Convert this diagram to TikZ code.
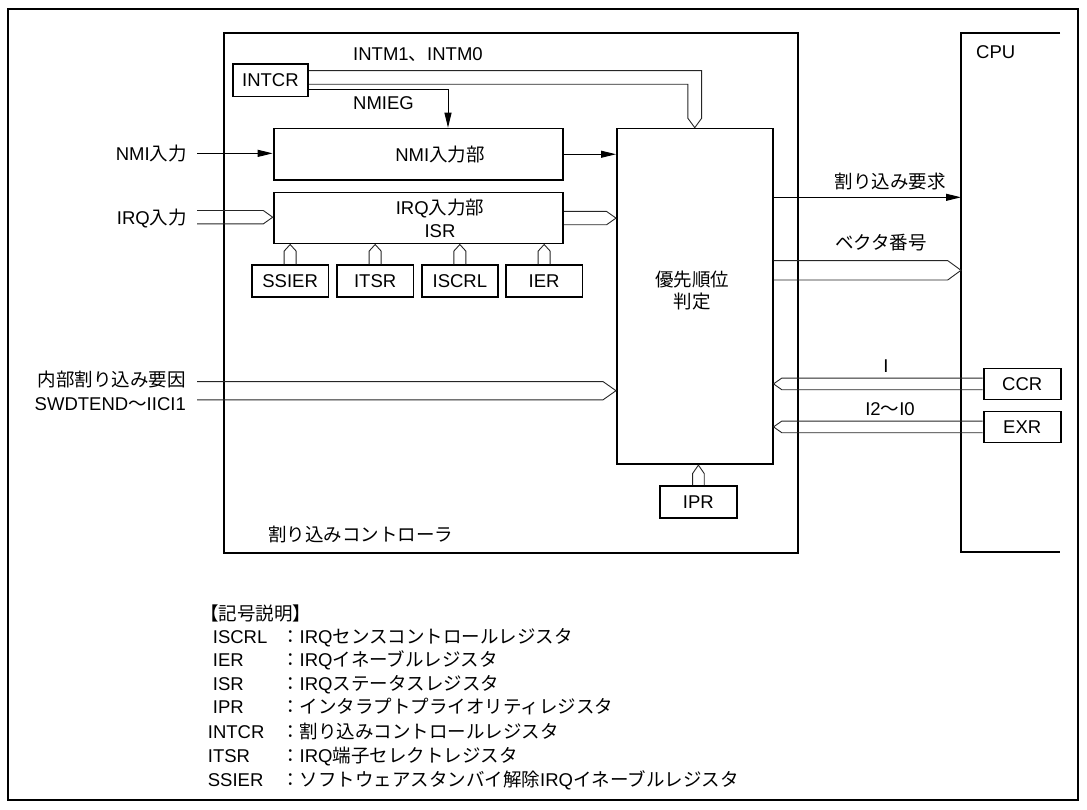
\documentclass[tikz,border=0pt]{standalone}
\usepackage{fontspec}
\setmainfont{Liberation Sans}
\newfontfamily\jpfont{Noto Sans CJK JP}
\XeTeXinterchartokenstate=1
\newXeTeXintercharclass\cjkcls
\newcount\cjkc
\def\setcjkrange#1#2{\cjkc=#1\relax\loop\XeTeXcharclass\cjkc=\cjkcls\relax\advance\cjkc by 1\relax\ifnum\cjkc<#2\relax\repeat}
\setcjkrange{"3000}{"3100}
\setcjkrange{"4E00}{"A000}
\setcjkrange{"FF00}{"FFF0}
\XeTeXinterchartoks 0 \cjkcls = {\jpfont}
\XeTeXinterchartoks 4095 \cjkcls = {\jpfont}
\XeTeXinterchartoks \cjkcls 0 = {\rmfamily}
\usetikzlibrary{calc,arrows.meta}
% bus with chevron tip: #1 tail, #2 tip, #3 half width, #4 chevron length
\newcommand\mybusR[4]{\draw[bus] let \p1=(#1),\p2=(#2) in (\x1,{\y2+#3}) -- ({\x2-#4},{\y2+#3}) -- (\x2,\y2) -- ({\x2-#4},{\y2-#3}) -- (\x1,{\y2-#3});}
\newcommand\mybusL[4]{\draw[bus] let \p1=(#1),\p2=(#2) in (\x1,{\y2+#3}) -- ({\x2+#4},{\y2+#3}) -- (\x2,\y2) -- ({\x2+#4},{\y2-#3}) -- (\x1,{\y2-#3});}
\newcommand\mybusU[4]{\draw[bus] let \p1=(#1),\p2=(#2) in ({\x2-#3},\y1) -- ({\x2-#3},{\y2-#4}) -- (\x2,\y2) -- ({\x2+#3},{\y2-#4}) -- ({\x2+#3},\y1);}
\begin{document}
\begin{tikzpicture}[x=1pt,y=-1pt,font=\fontsize{18.5}{22}\selectfont,line join=miter,
  box/.style={draw,line width=1.8pt,inner sep=0pt,anchor=north west},
  reg/.style={box,minimum width=76.5pt,minimum height=31.7pt},
  bus/.style={line width=0.9pt,draw=black!85},
  arr/.style={line width=1pt,-{Triangle[length=15pt,width=7pt]}},
  lbl/.style={inner sep=0pt}]
\useasboundingbox (0,0) rectangle (1087,810);
\draw[line width=1.6pt] (8,9) rectangle (1078,800);
% main blocks
\node[box,line width=2pt,minimum width=574.6pt,minimum height=520pt] (ctrl) at (222.7,32) {};
\draw[line width=2pt] (1060,32.6) -- (961,32.6) -- (961,552) -- (1060,552);
\coordinate (cpuw) at (961,300);
\node[lbl,anchor=base west] (tcpu) at (976,58.4) {CPU};
\node[box,minimum width=75.6pt,minimum height=32.4pt] (intcr) at (231.7,63.3) {INTCR};
\node[box,minimum width=289.6pt,minimum height=51.3pt] (nmi) at (272.7,127.7) {};
\node[box,minimum width=289.6pt,minimum height=51pt] (irq) at (272.7,191.7) {};
\node[reg] (ssier) at (251,264.3) {SSIER};
\node[reg] (itsr) at (336,264.3) {ITSR};
\node[reg] (iscrl) at (420.7,264.3) {ISCRL};
\node[reg] (ier) at (505,264.3) {IER};
\node[box,minimum width=155.7pt,minimum height=335.6pt] (prio) at (616,127.7) {};
\node[box,minimum width=77pt,minimum height=31.7pt] (ipr) at (659,485) {IPR};
\node[box,minimum width=77.3pt,minimum height=31pt] (ccr) at (982.7,367.5) {CCR};
\node[box,minimum width=77.3pt,minimum height=31pt] (exr) at (982.7,410.5) {EXR};
% texts
\node[lbl,anchor=base west] (tintm) at (353,61) {INTM1、INTM0};
\node[lbl,anchor=base west] (tnmieg) at (353,110) {NMIEG};
\node[lbl,anchor=base] (tnmi) at (440,161.7) {NMI入力部};
\node[lbl,anchor=base] (tirq) at (440,214.7) {IRQ入力部};
\node[lbl,anchor=base] (tisr) at (440,237.4) {ISR};
\node[lbl,anchor=base east] (tnmiin) at (187,160.7) {NMI入力};
\node[lbl,anchor=base east] (tirqin) at (187,224.7) {IRQ入力};
\node[lbl,anchor=base east] (tint1) at (186,386.7) {内部割り込み要因};
\node[lbl,anchor=base east] (tint2) at (186,410) {SWDTEND～IICI1};
\node[lbl,anchor=base] (tp1) at (692,286.7) {優先順位};
\node[lbl,anchor=base] (tp2) at (692,308.4) {判定};
\node[lbl,anchor=base] (treq) at (890,188.4) {割り込み要求};
\node[lbl,anchor=base] (tvec) at (881,250) {ベクタ番号};
\node[lbl,anchor=base] (tI) at (886,372.4) {I};
\node[lbl,anchor=base] (tI2) at (890,415) {I2～I0};
\node[lbl,anchor=base west] (tctrl) at (268,541.7) {割り込みコントローラ};
% connectors
\coordinate (ya) at (0,70.7);
\coordinate (yb) at (0,84.3);
\coordinate (sa) at ($(prio.north)+(6.85,-9.4)$);
\coordinate (sb) at ($(prio.north)+(-6.85,-9.4)$);
\draw[bus] (intcr.east |- ya) -- (sa |- ya) -- (sa) -- (prio.north) -- (sb) -- (sb |- yb) -- (intcr.east |- yb);
\coordinate (ng) at (448,89.3);
\draw[arr] (intcr.east |- ng) -- (ng) -- (ng |- nmi.north);
\coordinate (nmiin) at (197,153.35);
\draw[arr] (nmiin) -- (nmiin -| nmi.west);
\draw[arr] (nmi.east) -- (nmi.east -| prio.west);
\coordinate (irqin) at (197,217.2);
\mybusR{irqin}{irqin -| irq.west}{6.7pt}{9.4pt}
\mybusR{irq.east}{irq.east -| prio.west}{6.7pt}{9.5pt}
\mybusU{ssier.north}{ssier.north |- irq.south}{6pt}{6.6pt}
\mybusU{itsr.north}{itsr.north |- irq.south}{6pt}{6.6pt}
\mybusU{iscrl.north}{iscrl.north |- irq.south}{6pt}{6.6pt}
\mybusU{ier.north}{ier.north |- irq.south}{6pt}{6.6pt}
\coordinate (intin) at (197,390.7);
\mybusR{intin}{intin -| prio.west}{9.15pt}{13pt}
\coordinate (reqy) at (0,197.3);
\draw[arr] (prio.east |- reqy) -- (cpuw |- reqy);
\coordinate (vecy) at (0,270.3);
\mybusR{prio.east |- vecy}{cpuw |- vecy}{9.7pt}{13.3pt}
\mybusL{ccr.west}{ccr.west -| prio.east}{5.8pt}{8.3pt}
\mybusL{exr.west}{exr.west -| prio.east}{5.8pt}{8.3pt}
\mybusU{ipr.north}{ipr.north |- prio.south}{5.8pt}{8.4pt}
% legend
\node[lbl,anchor=base west] (lhead) at (200,620) {【記号説明】};
\node[lbl,anchor=base west] (la1) at (212.7,643.4) {ISCRL};
\node[lbl,anchor=base west] (ld1) at (281,643.4) {：IRQセンスコントロールレジスタ};
\node[lbl,anchor=base west] (la2) at (212.7,666) {IER};
\node[lbl,anchor=base west] (ld2) at (281,666) {：IRQイネーブルレジスタ};
\node[lbl,anchor=base west] (la3) at (212.7,690) {ISR};
\node[lbl,anchor=base west] (ld3) at (281,690) {：IRQステータスレジスタ};
\node[lbl,anchor=base west] (la4) at (212.7,713.4) {IPR};
\node[lbl,anchor=base west] (ld4) at (281,713.4) {：インタラプトプライオリティレジスタ};
\node[lbl,anchor=base west] (la5) at (207.7,738.4) {INTCR};
\node[lbl,anchor=base west] (ld5) at (281,738.4) {：割り込みコントロールレジスタ};
\node[lbl,anchor=base west] (la6) at (207.7,762.7) {ITSR};
\node[lbl,anchor=base west] (ld6) at (281,762.7) {：IRQ端子セレクトレジスタ};
\node[lbl,anchor=base west] (la7) at (207.7,786.7) {SSIER};
\node[lbl,anchor=base west] (ld7) at (281,786.7) {：ソフトウェアスタンバイ解除IRQイネーブルレジスタ};
\end{tikzpicture}
\end{document}
